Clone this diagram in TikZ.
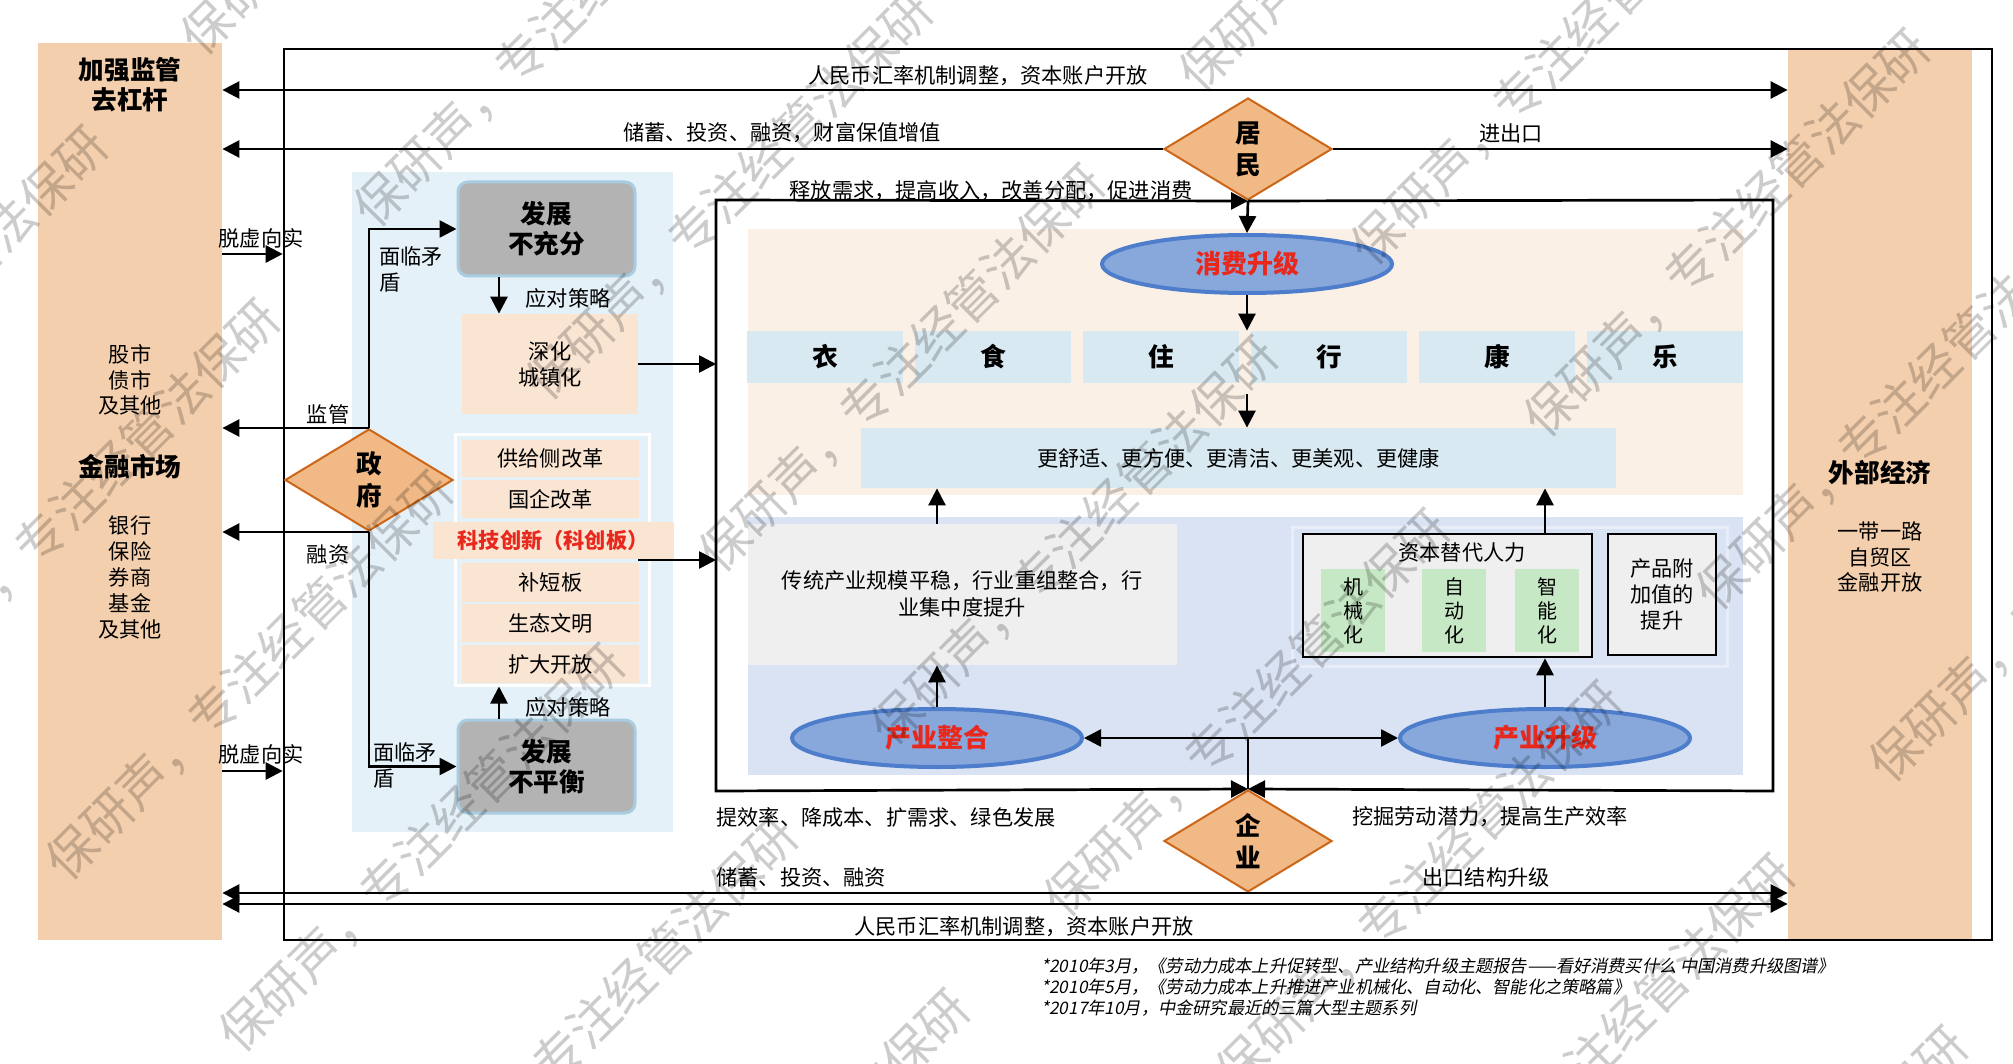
\documentclass[tikz,border=0pt]{standalone}
\usepackage{fontspec}
\setmainfont{Noto Sans CJK SC}
\newfontfamily\notefont[FakeSlant=0.2]{Noto Sans CJK SC}
\usetikzlibrary{arrows.meta,shapes.geometric,fit}

\definecolor{peach}{HTML}{F4CFAD}
\definecolor{govbg}{HTML}{E5F1F8}
\definecolor{devgray}{HTML}{B3B3B3}
\definecolor{devedge}{HTML}{A8CCE0}
\definecolor{itemfill}{HTML}{FAE5D3}
\definecolor{consbg}{HTML}{FBF0E6}
\definecolor{cellblue}{HTML}{D9E9F1}
\definecolor{prodbg}{HTML}{DAE3F3}
\definecolor{prodedge}{HTML}{E8EDF8}
\definecolor{lgray}{HTML}{EFEFEF}
\definecolor{mint}{HTML}{C6E8C4}
\definecolor{ellfill}{HTML}{88A8DC}
\definecolor{elledge}{HTML}{4E7DCB}
\definecolor{hot}{HTML}{E8281C}
\definecolor{dfill}{HTML}{F0B985}
\definecolor{dedge}{HTML}{CC6619}

\tikzset{
  txt/.style={font=\fontsize{10.6}{13}\selectfont, inner sep=0pt, align=center},
  ttl/.style={font=\fontsize{12.8}{15}\selectfont\bfseries, inner sep=0pt, align=center},
  area/.style={inner sep=0pt, draw=none},
  link/.style={line width=1.35pt},
  conn/.style={line width=1.35pt, -{Triangle[length=8.5pt,width=8.5pt]}},
  dbl/.style={line width=1.35pt, {Triangle[length=8.5pt,width=8.5pt]}-{Triangle[length=8.5pt,width=8.5pt]}},
  dmd/.style={diamond, draw=dedge, fill=dfill, line width=1pt, minimum width=84pt,
    minimum height=51pt, inner sep=0pt, align=center,
    font=\fontsize{12.8}{16}\selectfont\bfseries},
  ell/.style={ellipse, draw=elledge, fill=ellfill, line width=2pt, minimum width=145pt,
    minimum height=29pt, inner sep=0pt, text=hot, font=\fontsize{13}{15}\selectfont\bfseries},
  devbox/.style={area, fill=devgray, draw=devedge, line width=1.5pt, rounded corners=5pt},
  itembox/.style={area, fill=itemfill},
  cellbox/.style={area, fill=cellblue},
  blackbox/.style={area, fill=lgray, draw=black, line width=1.3pt},
  note/.style={font=\notefont\fontsize{8.6}{10}\selectfont, inner sep=0pt, anchor=west},
  wmark/.style={anchor=west, rotate=45, inner sep=0pt, text=black, text opacity=0.2,
    font=\fontsize{25}{25}\selectfont}
}

\begin{document}
\begin{tikzpicture}[x=0.5pt,y=-0.5pt]
\fill[white] (0,0) rectangle (2013,1064);
\useasboundingbox (0,0) rectangle (2013,1064);

% side panels and the outer frame
\node[area, fill=peach, fit={(38,43) (222,940)}] (lp) {};
\node[area, fill=peach, fit={(1788,50) (1972,940)}] (rp) {};
\node[area, draw=black, line width=1.3pt, fit={(284,49) (1992,940)}] (outer) {};

\node[ttl] at (130,85) {加强监管\\去杠杆};
\node[txt, font=\fontsize{10.6}{12.6}\selectfont] at (130,380) {股市\\债市\\及其他};
\node[ttl] at (130,467) {金融市场};
\node[txt] at (130,577) {银行\\保险\\券商\\基金\\及其他};

\node[ttl] at (1880,473) {外部经济};
\node[txt, font=\fontsize{10.6}{12.8}\selectfont] at (1880,557) {一带一路\\自贸区\\金融开放};

% households and the top flows
\coordinate (r1) at (0,90);
\draw[dbl] (lp.east |- r1) -- (rp.west |- r1);
\node[txt] at (978,76) {人民币汇率机制调整，资本账户开放};

\node[dmd] (ju) at (1248,149) {居\\民};
\draw[conn] (ju.west) -- (ju.west -| lp.east);
\draw[conn] (ju.east) -- (ju.east -| rp.west);
\node[txt] at (782,133) {储蓄、投资、融资，财富保值增值};
\node[txt] at (1511,133) {进出口};

% government block
\node[area, fill=govbg, fit={(352,172) (673,832)}] (gbg) {};
\node[devbox, fit={(458,182) (635,276)}] (bcf) {};
\node[ttl] at (bcf.center) {发展\\不充分};
\node[itembox, fit={(462,314) (638,414)}] (sh) {};
\node[txt] at (sh.center) {深化\\城镇化};
\coordinate (gx) at (499,0);
\draw[conn] (bcf.south -| gx) -- (sh.north -| gx);
\node[txt] at (568,298) {应对策略};

\node[area, draw=white, line width=1.5pt, fit={(455,434) (649,685)}] (plist) {};
\node[itembox, fit={(462,440) (639,477)}] (gj) {};
\node[txt] at (gj.center) {供给侧改革};
\node[itembox, fit={(462,480) (639,518)}] (gq) {};
\node[txt] at (gq.center) {国企改革};
\node[itembox, fit={(433,522) (674,559)}] (kj) {};
\node[txt, text=hot, font=\fontsize{10.6}{13}\selectfont\bfseries] at (553,540) {科技创新（科创板）};
\node[itembox, fit={(462,563) (639,602)}] (bd) {};
\node[txt] at (bd.center) {补短板};
\node[itembox, fit={(462,604) (639,642)}] (st) {};
\node[txt] at (st.center) {生态文明};
\node[itembox, fit={(462,645) (639,683)}] (kd) {};
\node[txt] at (kd.center) {扩大开放};

\node[devbox, fit={(458,720) (635,813)}] (bph) {};
\node[ttl] at (bph.center) {发展\\不平衡};
\draw[conn] (bph.north -| gx) -- (plist.south -| gx);
\node[txt] at (568,707) {应对策略};

\node[dmd] (gv) at (369,480) {政\\府};
\draw[conn] (gv.north) |- (bcf.west);
\draw[conn] (gv.south) |- (bph.west);
\node[txt, align=left, anchor=west] at (379,269) {面临矛\\盾};
\node[txt, align=left, anchor=west] at (373,765) {面临矛\\盾};
\draw[conn] (gv.north) -- (gv.north -| lp.east);
\node[txt] at (328,414) {监管};
\draw[conn] (gv.south) -- (gv.south -| lp.east);
\node[txt] at (328,555) {融资};

\coordinate (t1) at (0,254);
\coordinate (t2) at (0,771);
\draw[conn] (lp.east |- t1) -- (outer.west |- t1);
\node[txt] at (261,238) {脱虚向实};
\draw[conn] (lp.east |- t2) -- (outer.west |- t2);
\node[txt] at (261,754) {脱虚向实};

% inner frame: consumption and production
\coordinate (fTL) at (716,200);
\coordinate (fTR) at (1773,200);
\coordinate (fBL) at (716,791);
\coordinate (fBR) at (1773,791);
\node[dmd] (qy) at (1248,841) {企\\业};

\draw[dbl] (ju.south) -- (fTL) -- (fBL) -- (qy.north);
\draw[conn] (ju.south) -- (fTR) -- (fBR) -- (qy.north);
\node[txt] at (991,191) {释放需求，提高收入，改善分配，促进消费};

\draw[conn] (sh.east) -- (sh.east -| fTL);
\coordinate (kjout) at (638,560);
\draw[conn] (kjout) -- (kjout -| fTL);

\node[area, fill=consbg, fit={(748,229) (1743,495)}] (cbg) {};
\node[ell] (xf) at (1247,264) {消费升级};
\draw[conn] (ju.south) -- (xf.north);

\foreach \n/\t [count=\i from 0] in {yi/衣,shi/食,zhu/住,xing/行,kang/康,le/乐}{
  \node[cellbox, fit={(747+168*\i,331) (903+168*\i,383)}] (\n) {};
  \node[ttl] at (\n.center) {\t};
}
\draw[conn] (xf.south) -- (xf.south |- zhu.north);

\node[cellbox, fit={(861,428) (1616,488)}] (gsh) {};
\node[txt] at (gsh.center) {更舒适、更方便、更清洁、更美观、更健康};
\coordinate (a3) at (1247,394);
\draw[conn] (a3) -- (a3 |- gsh.north);

\node[area, fill=prodbg, fit={(748,517) (1743,775)}] (pbg) {};
\node[area, fill=lgray, fit={(748,524) (1177,665)}] (ct) {};
\node[txt, font=\fontsize{10.6}{13.5}\selectfont] at (962,594) {传统产业规模平稳，行业重组整合，行\\业集中度提升};
\node[area, draw=prodedge, line width=1.5pt, fit={(1292,527) (1727,666)}] (cap) {};
\node[blackbox, fit={(1303,534) (1592,657)}] (zb) {};
\node[txt] at (1462,552) {资本替代人力};
\node[area, fill=mint, fit={(1321,569) (1385,652)}] (m1) {};
\node[txt, font=\fontsize{10}{12}\selectfont] at (m1.center) {机\\械\\化};
\node[area, fill=mint, fit={(1422,569) (1486,652)}] (m2) {};
\node[txt, font=\fontsize{10}{12}\selectfont] at (m2.center) {自\\动\\化};
\node[area, fill=mint, fit={(1515,569) (1579,652)}] (m3) {};
\node[txt, font=\fontsize{10}{12}\selectfont] at (m3.center) {智\\能\\化};
\node[blackbox, fit={(1608,534) (1716,655)}] (cp) {};
\node[txt, font=\fontsize{10.6}{12.8}\selectfont] at (cp.center) {产品附\\加值的\\提升};

\node[ell] (zh) at (937,738) {产业整合};
\node[ell] (sj) at (1545,738) {产业升级};
\draw[conn] (zh.north) -- (zh.north |- ct.south);
\draw[conn] (ct.north -| zh.north) -- (gsh.south -| zh.north);
\draw[conn] (sj.north) -- (sj.north |- zb.south);
\draw[conn] (zb.north -| sj.north) -- (gsh.south -| sj.north);
\draw[dbl] (zh.east) -- (sj.west);
\draw[link] (qy.north) -- (qy.north |- zh.east);

\node[txt, anchor=west] at (716,817) {提效率、降成本、扩需求、绿色发展};
\node[txt] at (1490,817) {挖掘劳动潜力，提高生产效率};

% bottom flows
\draw[conn] (qy.south) -- (qy.south -| lp.east);
\draw[conn] (qy.south) -- (qy.south -| rp.west);
\node[txt, anchor=west] at (716,877) {储蓄、投资、融资};
\node[txt] at (1486,877) {出口结构升级};
\coordinate (b2) at (0,904);
\draw[dbl] (lp.east |- b2) -- (rp.west |- b2);
\node[txt] at (1024,927) {人民币汇率机制调整，资本账户开放};

% sources
\node[note] at (1041,966) {*2010年3月，《劳动力成本上升促转型、产业结构升级主题报告——看好消费买什么 中国消费升级图谱》};
\node[note] at (1041,987) {*2010年5月，《劳动力成本上升推进产业机械化、自动化、智能化之策略篇》};
\node[note] at (1041,1008) {*2017年10月，中金研究最近的三篇大型主题系列};

% diagonal watermark
\begin{scope}
\clip (0,0) rectangle (2013,1064);
\foreach \k in {-1,...,7}{
  \foreach \j in {-3,...,2}{
    \pgfmathsetmacro\s{580+345*\k}
    \pgfmathsetmacro\d{180+960*\j}
    \node[wmark] at ({(\s+\d)/2-18},{(\s-\d)/2+18}) {保研声，专注经管法保研};
  }
}
\end{scope}
\end{tikzpicture}
\end{document}
